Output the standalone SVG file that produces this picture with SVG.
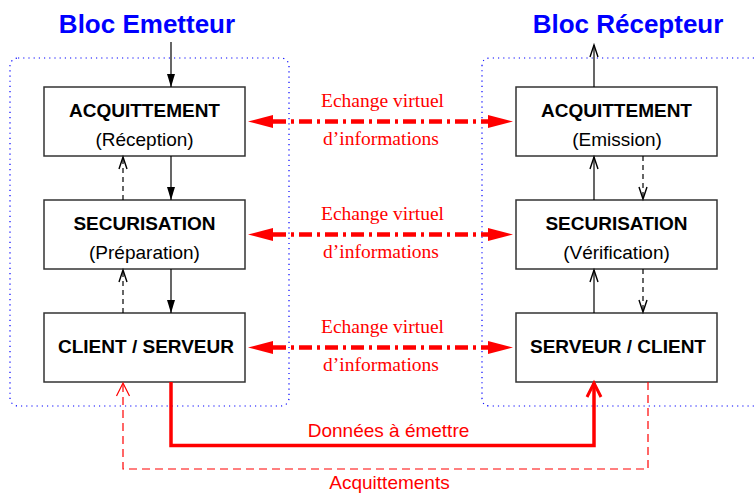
<svg xmlns="http://www.w3.org/2000/svg" width="754" height="493" viewBox="0 0 754 493">
<style>
.box{fill:#fff;stroke:#333;stroke-width:1.5}
.bt{font-family:"Liberation Sans",Arial,sans-serif;font-size:19px;font-weight:bold;fill:#000;text-anchor:middle}
.rt{font-family:"Liberation Sans",Arial,sans-serif;font-size:19px;fill:#000;text-anchor:middle}
.title{font-family:"Liberation Sans",Arial,sans-serif;font-size:26px;font-weight:bold;fill:#0000ff;text-anchor:middle}
.ser{font-family:"Liberation Serif","Times New Roman",serif;font-size:19.5px;fill:#ff0000;text-anchor:middle}
.rlab{font-family:"Liberation Sans",Arial,sans-serif;font-size:19px;fill:#ff0000;text-anchor:middle}
.dot{fill:none;stroke:#0000ff;stroke-width:1.2;stroke-dasharray:1.2 4}
.bl{fill:none;stroke:#000;stroke-width:1.2}
.bd{fill:none;stroke:#000;stroke-width:1.2;stroke-dasharray:5 4}
.fd{marker-end:url(#filled)}
.op{marker-end:url(#open)}
.virt{fill:none;stroke:#ff0000;stroke-width:4.5;stroke-dasharray:13 5 3 5;marker-start:url(#big);marker-end:url(#big)}
.data{fill:none;stroke:#ff0000;stroke-width:3.5;marker-end:url(#redopen)}
.ack{fill:none;stroke:#ff0000;stroke-width:1.2;stroke-dasharray:8 5;marker-end:url(#redthin)}
</style>
<defs>
<marker id="filled" markerUnits="userSpaceOnUse" orient="auto" refX="0" refY="0" markerWidth="20" markerHeight="20" overflow="visible">
<path d="M-13,-4 L0,0 L-13,4 Z" fill="#000"/>
</marker>
<marker id="open" markerUnits="userSpaceOnUse" orient="auto" refX="0" refY="0" markerWidth="20" markerHeight="20" overflow="visible">
<path d="M-12,-4 L0,0 L-12,4" fill="none" stroke="#000" stroke-width="1.4"/>
</marker>
<marker id="big" markerUnits="userSpaceOnUse" orient="auto-start-reverse" refX="0" refY="0" markerWidth="30" markerHeight="30" overflow="visible">
<path d="M0,-6.5 L25,0 L0,6.5 Z" fill="#ff0000"/>
</marker>
<marker id="redopen" markerUnits="userSpaceOnUse" orient="auto" refX="0" refY="0" markerWidth="30" markerHeight="30" overflow="visible">
<path d="M-14,-7 L0,0 L-14,7" fill="none" stroke="#ff0000" stroke-width="3"/>
</marker>
<marker id="redthin" markerUnits="userSpaceOnUse" orient="auto" refX="0" refY="0" markerWidth="30" markerHeight="30" overflow="visible">
<path d="M-13,-6.5 L0,0 L-13,6.5" fill="none" stroke="#ff0000" stroke-width="1.2"/>
</marker>
</defs>
<rect width="754" height="493" fill="#fff"/>

<g id="emetteur-block">
<rect class="dot" x="10" y="58" width="279" height="348" rx="8"/>
<text class="title" x="147" y="33">Bloc Emetteur</text>
</g>
<g id="recepteur-block">
<path class="dot" d="M754,58 L490,58 Q482,58 482,66 L482,398 Q482,406 490,406 L754,406"/>
<text class="title" x="628" y="33">Bloc Récepteur</text>
</g>

<g id="e-acquittement">
<rect class="box" x="44" y="87" width="201" height="69"/>
<text class="bt" x="144.5" y="117">ACQUITTEMENT</text>
<text class="rt" x="144.5" y="145.5">(Réception)</text>
</g>
<g id="e-securisation">
<rect class="box" x="44" y="200" width="201" height="69"/>
<text class="bt" x="144.5" y="230">SECURISATION</text>
<text class="rt" x="144.5" y="258.5">(Préparation)</text>
</g>
<g id="e-client">
<rect class="box" x="44" y="313" width="201" height="69"/>
<text class="bt" x="146" y="353">CLIENT / SERVEUR</text>
</g>

<g id="r-acquittement">
<rect class="box" x="516" y="87" width="201" height="69"/>
<text class="bt" x="616.5" y="117">ACQUITTEMENT</text>
<text class="rt" x="617" y="145.5">(Emission)</text>
</g>
<g id="r-securisation">
<rect class="box" x="516" y="200" width="201" height="69"/>
<text class="bt" x="616.5" y="230">SECURISATION</text>
<text class="rt" x="616.5" y="258.5">(Vérification)</text>
</g>
<g id="r-serveur">
<rect class="box" x="516" y="313" width="201" height="69"/>
<text class="bt" x="618" y="353">SERVEUR / CLIENT</text>
</g>

<g id="connectors">
<line class="bl fd" x1="171" y1="42" x2="171" y2="87"/>
<line class="bl fd" x1="171" y1="156" x2="171" y2="200"/>
<line class="bl fd" x1="171" y1="269" x2="171" y2="313"/>
<line class="bd op" x1="123" y1="200" x2="123" y2="157"/>
<line class="bd op" x1="123" y1="313" x2="123" y2="270"/>

<line class="bl op" x1="594" y1="87" x2="594" y2="45"/>
<line class="bl op" x1="594" y1="200" x2="594" y2="157"/>
<line class="bl op" x1="594" y1="313" x2="594" y2="270"/>
<line class="bd op" x1="643" y1="156" x2="643" y2="199"/>
<line class="bd op" x1="643" y1="269" x2="643" y2="312"/>

<line class="virt" x1="273" y1="121.5" x2="488" y2="121.5"/>
<line class="virt" x1="273" y1="234.5" x2="488" y2="234.5"/>
<line class="virt" x1="273" y1="347.5" x2="488" y2="347.5"/>

<polyline class="data" points="171,382 171,445.5 594,445.5 594,383"/>
<polyline class="ack" points="648,382 648,469 123,469 123,383"/>
</g>

<g id="labels">
<text class="ser" x="382.5" y="107">Echange virtuel</text>
<text class="ser" x="381" y="145">d’informations</text>
<text class="ser" x="382.5" y="220">Echange virtuel</text>
<text class="ser" x="381" y="258">d’informations</text>
<text class="ser" x="382.5" y="333">Echange virtuel</text>
<text class="ser" x="381" y="371">d’informations</text>
<text class="rlab" x="388.5" y="437">Données à émettre</text>
<text class="rlab" x="389.5" y="489">Acquittements</text>
</g>
</svg>
